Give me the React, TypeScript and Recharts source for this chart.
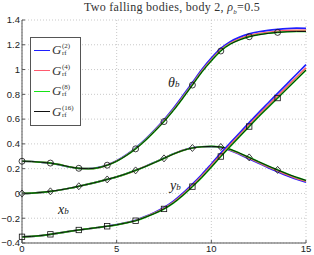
import React from "react";
import {
    LineChart, Line, XAxis, YAxis, CartesianGrid, Legend
} from "recharts";

// sample positions (every 0.5)
const xs = [
    0, 0.5, 1, 1.5, 2, 2.5, 3, 3.5, 4, 4.5, 5, 5.5, 6, 6.5, 7, 7.5,
    8, 8.5, 9, 9.5, 10, 10.5, 11, 11.5, 12, 12.5, 13, 13.5, 14, 14.5, 15,
];

// theta_b
const thetaG2 = [
    0.26, 0.258, 0.252, 0.244, 0.231, 0.214, 0.202, 0.2, 0.208, 0.23, 0.263, 0.31, 0.368, 0.435, 0.512, 0.595,
    0.688, 0.79, 0.895, 1.0, 1.092, 1.17, 1.225, 1.262, 1.288, 1.305, 1.317, 1.325, 1.331, 1.334, 1.333,
];
const thetaG4 = [
    0.26, 0.258, 0.252, 0.245, 0.232, 0.215, 0.203, 0.2, 0.207, 0.229, 0.261, 0.307, 0.363, 0.429, 0.505, 0.586,
    0.677, 0.778, 0.882, 0.988, 1.078, 1.158, 1.213, 1.249, 1.274, 1.29, 1.301, 1.309, 1.314, 1.316, 1.316,
];
const thetaG8 = [
    0.26, 0.258, 0.252, 0.245, 0.232, 0.215, 0.203, 0.2, 0.207, 0.228, 0.26, 0.305, 0.361, 0.426, 0.501, 0.581,
    0.671, 0.771, 0.876, 0.981, 1.071, 1.151, 1.206, 1.241, 1.266, 1.282, 1.293, 1.3, 1.305, 1.307, 1.307,
];
const thetaG16 = [
    0.26, 0.258, 0.252, 0.245, 0.232, 0.215, 0.203, 0.2, 0.207, 0.228, 0.26, 0.305, 0.36, 0.425, 0.5, 0.58,
    0.67, 0.77, 0.875, 0.98, 1.07, 1.15, 1.205, 1.24, 1.265, 1.281, 1.292, 1.3, 1.305, 1.307, 1.307,
];

// x_b
const xbG2 = [
    0, 0.002, 0.008, 0.017, 0.028, 0.042, 0.058, 0.075, 0.093, 0.113, 0.134, 0.159, 0.187, 0.218, 0.251, 0.286,
    0.32, 0.349, 0.368, 0.377, 0.378, 0.37, 0.348, 0.315, 0.279, 0.243, 0.208, 0.175, 0.143, 0.114, 0.09,
];
const xbG4 = [
    0, 0.002, 0.008, 0.017, 0.028, 0.042, 0.058, 0.075, 0.093, 0.113, 0.134, 0.158, 0.186, 0.217, 0.25, 0.284,
    0.319, 0.348, 0.367, 0.377, 0.379, 0.373, 0.352, 0.32, 0.285, 0.25, 0.215, 0.183, 0.151, 0.122, 0.098,
];
const xbG8 = [
    0, 0.002, 0.008, 0.017, 0.028, 0.042, 0.058, 0.075, 0.093, 0.113, 0.134, 0.158, 0.186, 0.216, 0.249, 0.283,
    0.318, 0.347, 0.367, 0.377, 0.38, 0.375, 0.356, 0.325, 0.291, 0.256, 0.222, 0.19, 0.159, 0.13, 0.105,
];
const xbG16 = [
    0, 0.002, 0.008, 0.017, 0.028, 0.042, 0.058, 0.075, 0.093, 0.113, 0.134, 0.158, 0.186, 0.216, 0.249, 0.283,
    0.318, 0.347, 0.367, 0.377, 0.38, 0.375, 0.356, 0.325, 0.291, 0.256, 0.222, 0.19, 0.158, 0.13, 0.105,
];

// y_b
const ybG2 = [
    -0.35, -0.347, -0.34, -0.33, -0.318, -0.306, -0.295, -0.285, -0.275, -0.265, -0.252, -0.236, -0.216, -0.187, -0.153, -0.113,
    -0.062, 0.002, 0.075, 0.153, 0.238, 0.325, 0.408, 0.49, 0.572, 0.653, 0.73, 0.808, 0.885, 0.962, 1.04,
];
const ybG4 = [
    -0.35, -0.347, -0.34, -0.33, -0.318, -0.306, -0.295, -0.285, -0.275, -0.265, -0.253, -0.237, -0.218, -0.19, -0.158, -0.119,
    -0.07, -0.007, 0.064, 0.141, 0.225, 0.31, 0.392, 0.473, 0.554, 0.634, 0.71, 0.786, 0.862, 0.938, 1.014,
];
const ybG8 = [
    -0.35, -0.347, -0.34, -0.33, -0.318, -0.306, -0.295, -0.285, -0.275, -0.265, -0.253, -0.238, -0.22, -0.193, -0.162, -0.125,
    -0.077, -0.015, 0.055, 0.13, 0.213, 0.298, 0.38, 0.46, 0.54, 0.62, 0.695, 0.77, 0.845, 0.92, 0.996,
];
const ybG16 = [
    -0.35, -0.347, -0.34, -0.33, -0.318, -0.306, -0.295, -0.285, -0.275, -0.265, -0.253, -0.238, -0.22, -0.193, -0.162, -0.125,
    -0.077, -0.015, 0.055, 0.13, 0.213, 0.298, 0.38, 0.46, 0.54, 0.62, 0.695, 0.77, 0.845, 0.92, 0.996,
];

const xTicks = [0, 5, 10, 15];
const yTicks = [-0.4, -0.2, 0, 0.2, 0.4, 0.6, 0.8, 1, 1.2, 1.4];

const levels = [
    { key: "2", color: "#1f1fff", width: 1.7 },
    { key: "4", color: "#ff5a6e", width: 1.7 },
    { key: "8", color: "#16e316", width: 1.7 },
    { key: "16", color: "#111111", width: 1 },
];

const data = xs.map((x, i) => ({
    x,
    th2: thetaG2[i], th4: thetaG4[i], th8: thetaG8[i], th16: thetaG16[i],
    xb2: xbG2[i], xb4: xbG4[i], xb8: xbG8[i], xb16: xbG16[i],
    yb2: ybG2[i], yb4: ybG4[i], yb8: ybG8[i], yb16: ybG16[i],
}));

const fmt = (v: number) => (v < 0 ? "\u2212" + Math.abs(v) : String(v));

const markerDot = (shape: string) => (props: any) => {
    const { cx, cy, index } = props;
    if (index % 3 !== 0 || index === xs.length - 1) return <g key={index} />;
    const s = 3;
    if (shape === "circle")
        return <circle key={index} cx={cx} cy={cy} r={s} fill="none" stroke="#111" strokeWidth={0.8} />;
    if (shape === "diamond")
        return (
            <path key={index} d={`M${cx},${cy - s - 0.5}L${cx + s},${cy}L${cx},${cy + s + 0.5}L${cx - s},${cy}Z`}
                fill="none" stroke="#111" strokeWidth={0.8} />
        );
    return <rect key={index} x={cx - 2.7} y={cy - 2.7} width={5.4} height={5.4} fill="none" stroke="#111" strokeWidth={0.8} />;
};

const shapes: Record<string, string> = { th: "circle", xb: "diamond", yb: "square" };

const tickStyle = { fontSize: 9.5, fill: "#222", fontFamily: "Liberation Sans, Arial, sans-serif" };
const mathFont = "'Liberation Serif', 'DejaVu Serif', serif";

const LegendBox = () => (
    <div style={{
        border: "1px solid #555", background: "#fff", width: 51, height: 89,
        boxSizing: "border-box", paddingTop: 2,
    }}>
        {levels.map((l) => (
            <div key={l.key} style={{ display: "flex", alignItems: "center", height: 20.5 }}>
                <div style={{ width: 16, height: 0, borderTop: `${l.width === 1 ? 1 : 1.5}px solid ${l.color}`, marginLeft: 3 }} />
                <span style={{ fontFamily: mathFont, fontStyle: "italic", fontSize: 13, marginLeft: 2, color: "#333" }}>G</span>
                <span style={{
                    display: "inline-flex", flexDirection: "column", fontFamily: mathFont,
                    fontSize: 7, lineHeight: "7px", color: "#333", marginLeft: 0.5,
                }}>
                    <span>({l.key})</span>
                    <span>rf</span>
                </span>
            </div>
        ))}
    </div>
);

const Lbl = ({ left, top, main, sub }: { left: number; top: number; main: string; sub: string }) => (
    <div style={{
        position: "absolute", left, top, fontFamily: mathFont, fontStyle: "italic",
        fontSize: 14, color: "#222", lineHeight: "14px",
    }}>
        {main}<span style={{ fontSize: 9 }}>{sub}</span>
    </div>
);

export default function App() {
    return (
        <div style={{ position: "absolute", left: 0, top: 0, width: 314, height: 255, background: "#fff" }}>
            <div style={{
                position: "absolute", left: 0, width: 344, top: 0, textAlign: "center",
                fontFamily: "'Liberation Serif', serif", fontSize: 12, color: "#333", letterSpacing: 0.3,
            }}>
                Two falling bodies, body 2, <i>ρ</i><sub style={{ fontSize: 7 }}><i>b</i></sub>=0.5
            </div>
            <LineChart width={314} height={255} data={data} margin={{ top: 20, right: 8, left: 0, bottom: 0 }}>
                <CartesianGrid stroke="#bbb" strokeDasharray="1 2" strokeWidth={0.8} />
                <XAxis dataKey="x" type="number" domain={[0, 15]} ticks={xTicks} height={12}
                    tickSize={-3} tickMargin={5} stroke="#555" tick={tickStyle} interval={0} />
                <XAxis xAxisId="top" orientation="top" type="number" domain={[0, 15]} ticks={xTicks}
                    height={0} tickSize={-3} tick={false} stroke="#555" />
                <YAxis type="number" domain={[-0.4, 1.4]} ticks={yTicks} width={22}
                    tickSize={-3} tickMargin={5} stroke="#555" tick={tickStyle} tickFormatter={fmt} interval={0} />
                <YAxis yAxisId="right" orientation="right" type="number" domain={[-0.4, 1.4]} ticks={yTicks}
                    width={0} tickSize={-3} tick={false} stroke="#555" />
                <Legend layout="vertical" align="center" verticalAlign="middle"
                    wrapperStyle={{ left: 30, top: 37, width: 51 }} content={() => <LegendBox />} />
                {["xb", "yb", "th"].flatMap((s) =>
                    levels.map((l) => (
                        <Line key={s + l.key} type="monotone" dataKey={s + l.key} stroke={l.color}
                            strokeWidth={l.width} isAnimationActive={false} legendType="line"
                            dot={l.key === "16" ? markerDot(shapes[s]) : false} activeDot={false} />
                    ))
                )}
            </LineChart>
            <Lbl left={168} top={76} main="θ" sub="b" />
            <Lbl left={58} top={203} main="x" sub="b" />
            <Lbl left={170} top={179} main="y" sub="b" />
        </div>
    );
}
